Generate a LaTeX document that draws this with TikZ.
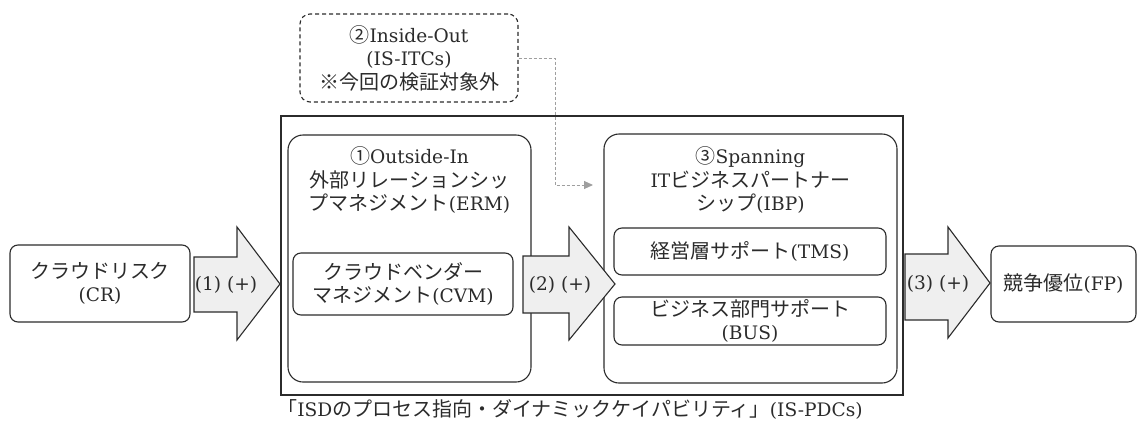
\documentclass[tikz,border=0pt]{standalone}
\usepackage{fontspec}
\setmainfont{DejaVu Serif}[Scale=0.93]
\newfontfamily\jp{Noto Sans CJK JP}
\usetikzlibrary{arrows.meta}
\definecolor{ink}{HTML}{2B2B2B}
\definecolor{afill}{HTML}{EFEFEF}
\tikzset{
  base/.style={draw=ink, line width=1.1pt, text=ink, align=center, inner sep=0pt,
    font=\fontsize{20}{23.5}\selectfont},
  rbox/.style={base, rounded corners=8pt},
  bigbox/.style={base, rounded corners=15pt},
  lbl/.style={text=ink, align=center, inner sep=0pt, font=\fontsize{20}{23.5}\selectfont},
  blockarrow/.style={draw=ink, line width=1.1pt, fill=afill, line join=miter},
  dashlink/.style={draw=gray!75, line width=1pt, dash pattern=on 3pt off 2pt,
    -{Triangle[length=9pt,width=8pt,fill=gray!75]}}
}
\begin{document}
\begin{tikzpicture}[x=1pt,y=-1pt]
\useasboundingbox (0,0) rectangle (1138,426);
% outer frame
\node[base, line width=1.3pt, minimum width=622pt, minimum height=279pt] (isd) at (592,255.5) {};
\node[lbl] (cap) at (570,409) {{\jp 「}ISD{\jp のプロセス指向・ダイナミックケイパビリティ」}(IS-PDCs)};
% dashed box
\node[rbox, dashed, dash pattern=on 4pt off 3pt, rounded corners=10pt, minimum width=218pt, minimum height=88pt] (io) at (409,58) {};
\node[lbl] (iot) at (409,58) {{\jp ②}Inside-Out\\(IS-ITCs)\\{\jp ※今回の検証対象外}};
% left box
\node[rbox, minimum width=180pt, minimum height=77pt] (cr) at (100,283.5) {{\jp クラウドリスク}\\(CR)};
% ERM
\node[bigbox, minimum width=243pt, minimum height=247pt] (erm) at (409.5,258.5) {};
\node[lbl] (ermt) at (409.5,180) {{\jp ①}Outside-In\\{\jp 外部リレーションシッ}\\{\jp プマネジメント}(ERM)};
\node[rbox, minimum width=220pt, minimum height=62pt] (cvm) at (403,284) {{\jp クラウドベンダー}\\{\jp マネジメント}(CVM)};
% IBP
\node[bigbox, minimum width=293pt, minimum height=249pt] (ibp) at (750.5,258.5) {};
\node[lbl] (ibpt) at (750.5,180) {{\jp ③}Spanning\\IT{\jp ビジネスパートナー}\\{\jp シップ}(IBP)};
\node[rbox, minimum width=272pt, minimum height=47pt] (tms) at (750,251.5) {{\jp 経営層サポート}(TMS)};
\node[rbox, minimum width=272pt, minimum height=48pt] (bus) at (750,321) {{\jp ビジネス部門サポート}\\(BUS)};
% FP
\node[rbox, minimum width=145pt, minimum height=76pt] (fp) at (1063.5,284) {{\jp 競争優位}(FP)};
% block arrows
\draw[blockarrow] (194,257) -- (237,257) -- (237,227) -- (280,284) -- (237,340) -- (237,312) -- (194,312) -- cycle;
\node[lbl] (a1) at (226,285) {(1) (+)};
\draw[blockarrow] (523,256) -- (569,256) -- (569,227) -- (615,284) -- (569,340) -- (569,313) -- (523,313) -- cycle;
\node[lbl] (a2) at (560,285) {(2) (+)};
\draw[blockarrow] (905,254) -- (948,254) -- (948,227) -- (990,283) -- (948,338) -- (948,320) -- (905,320) -- cycle;
\node[lbl] (a3) at (938,284) {(3) (+)};
% dashed connector
\coordinate (dturn) at (555,185);
\coordinate (dend) at (593,185);
\draw[dashlink] (io.east) -| (dturn) -- (dend);
\end{tikzpicture}
\end{document}
